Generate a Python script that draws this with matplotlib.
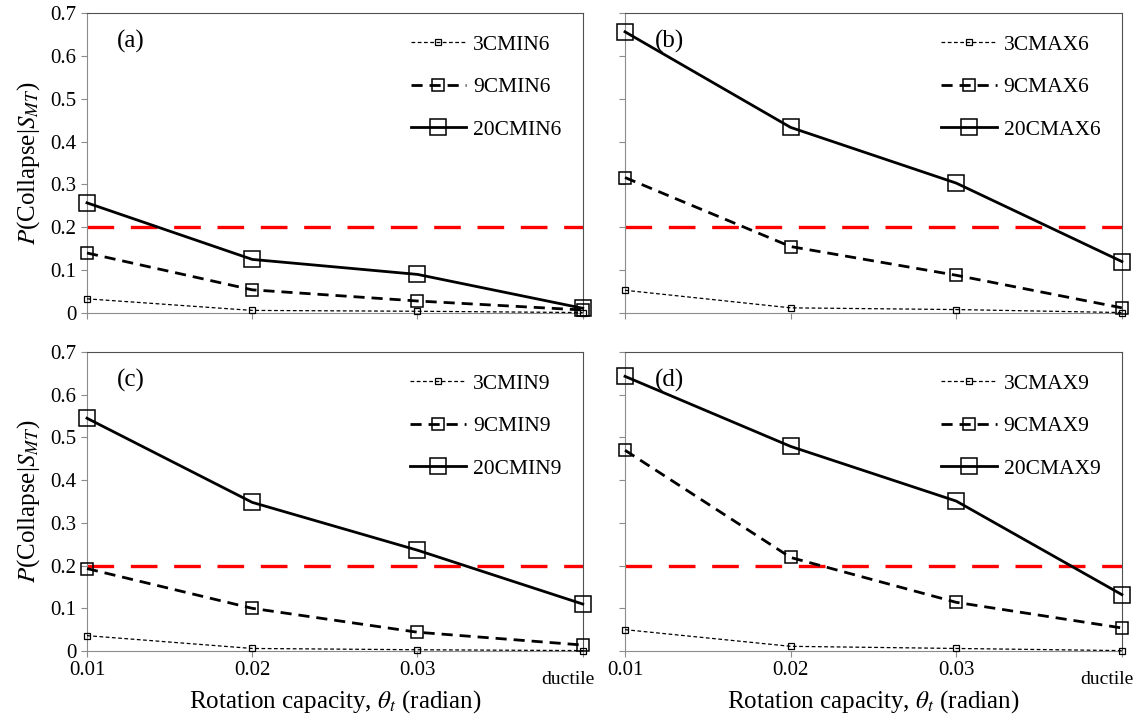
import matplotlib
matplotlib.use("Agg")
import matplotlib.pyplot as plt
from matplotlib.transforms import ScaledTranslation

plt.rcParams['font.family'] = ['Liberation Serif', 'DejaVu Serif']
plt.rcParams['mathtext.fontset'] = 'stix'

# categories on the x axis
categories = ['0.01', '0.02', '0.03', 'ductile']

# panel tags and series names
panel_tags = ['(a)', '(b)', '(c)', '(d)']
series_names = [
    ['3CMIN6', '9CMIN6', '20CMIN6'],
    ['3CMAX6', '9CMAX6', '20CMAX6'],
    ['3CMIN9', '9CMIN9', '20CMIN9'],
    ['3CMAX9', '9CMAX9', '20CMAX9'],
]

# probability of collapse values
cmin6_3 = [0.033, 0.006, 0.004, 0.001]
cmin6_9 = [0.140, 0.054, 0.028, 0.007]
cmin6_20 = [0.257, 0.125, 0.090, 0.011]

cmax6_3 = [0.053, 0.012, 0.008, 0.001]
cmax6_9 = [0.316, 0.155, 0.088, 0.012]
cmax6_20 = [0.656, 0.433, 0.303, 0.120]

cmin9_3 = [0.036, 0.006, 0.003, 0.001]
cmin9_9 = [0.193, 0.100, 0.044, 0.014]
cmin9_20 = [0.545, 0.348, 0.236, 0.110]

cmax9_3 = [0.050, 0.011, 0.006, 0.001]
cmax9_9 = [0.470, 0.219, 0.114, 0.054]
cmax9_20 = [0.643, 0.479, 0.351, 0.132]

panel_data = [
    [cmin6_3, cmin6_9, cmin6_20],
    [cmax6_3, cmax6_9, cmax6_20],
    [cmin9_3, cmin9_9, cmin9_20],
    [cmax9_3, cmax9_9, cmax9_20],
]

threshold = 0.2

# line styles for 3-, 9- and 20-storey frames
styles = [
    dict(linestyle=(0, (3, 2)), linewidth=0.9, markersize=5, markeredgewidth=0.9),
    dict(linestyle=(0, (4, 2.5)), linewidth=2.0, markersize=8, markeredgewidth=1.1),
    dict(linestyle='-', linewidth=2.0, markersize=11, markeredgewidth=1.1),
]

fig = plt.figure(figsize=(11.37, 7.2), dpi=100)
positions = [
    [0.0765, 0.5653, 0.436, 0.4167],
    [0.5497, 0.5653, 0.437, 0.4167],
    [0.0765, 0.0958, 0.436, 0.4153],
    [0.5497, 0.0958, 0.437, 0.4153],
]

x = list(range(len(categories)))

for i, pos in enumerate(positions):
    ax = fig.add_axes(pos)
    ax.axhline(threshold, color='red', linewidth=2.4, dashes=(8, 5), zorder=1)
    for data, name, st in zip(panel_data[i], series_names[i], styles):
        ax.plot(x, data, color='black', marker='s', markerfacecolor='none',
                markeredgecolor='black', label=name, clip_on=False, zorder=3, **st)

    ax.set_xlim(0, 3)
    ax.set_ylim(0, 0.7)
    ax.set_yticks([0, 0.1, 0.2, 0.3, 0.4, 0.5, 0.6, 0.7])
    ax.set_xticks(x)
    for side in ['left', 'bottom']:
        ax.spines[side].set_color('#8c8c8c')
    for side in ['top', 'right']:
        ax.spines[side].set_color('#505050')
    ax.tick_params(direction='out', length=4, color='#8c8c8c', labelsize=15)

    if i % 2 == 0:
        ax.set_yticklabels(['0', '0.1', '0.2', '0.3', '0.4', '0.5', '0.6', '0.7'])
        ax.set_ylabel(r'$P$(Collapse|$S_{MT}$)', fontsize=18, labelpad=6)
    else:
        ax.set_yticklabels([])

    if i >= 2:
        ax.set_xticklabels(categories)
        ax.set_xlabel(r'Rotation capacity, $\theta_t$ (radian)', fontsize=18)
        ax.xaxis.set_label_coords(0.5, -0.125)
        last = ax.get_xticklabels()[-1]
        last.set_fontsize(14)
        last.set_horizontalalignment('right')
        last.set_transform(last.get_transform() +
                           ScaledTranslation(12 / 100, -10 / 100, fig.dpi_scale_trans))
    else:
        ax.set_xticklabels([])

    ax.text(0.06, 0.905, panel_tags[i], transform=ax.transAxes, fontsize=18,
            ha='left', va='center')
    ax.legend(loc='upper right', frameon=False, fontsize=15.5, handlelength=2.6,
              labelspacing=1.05, handletextpad=0.3, borderaxespad=0.6)

fig.savefig('out.png', dpi=100)
